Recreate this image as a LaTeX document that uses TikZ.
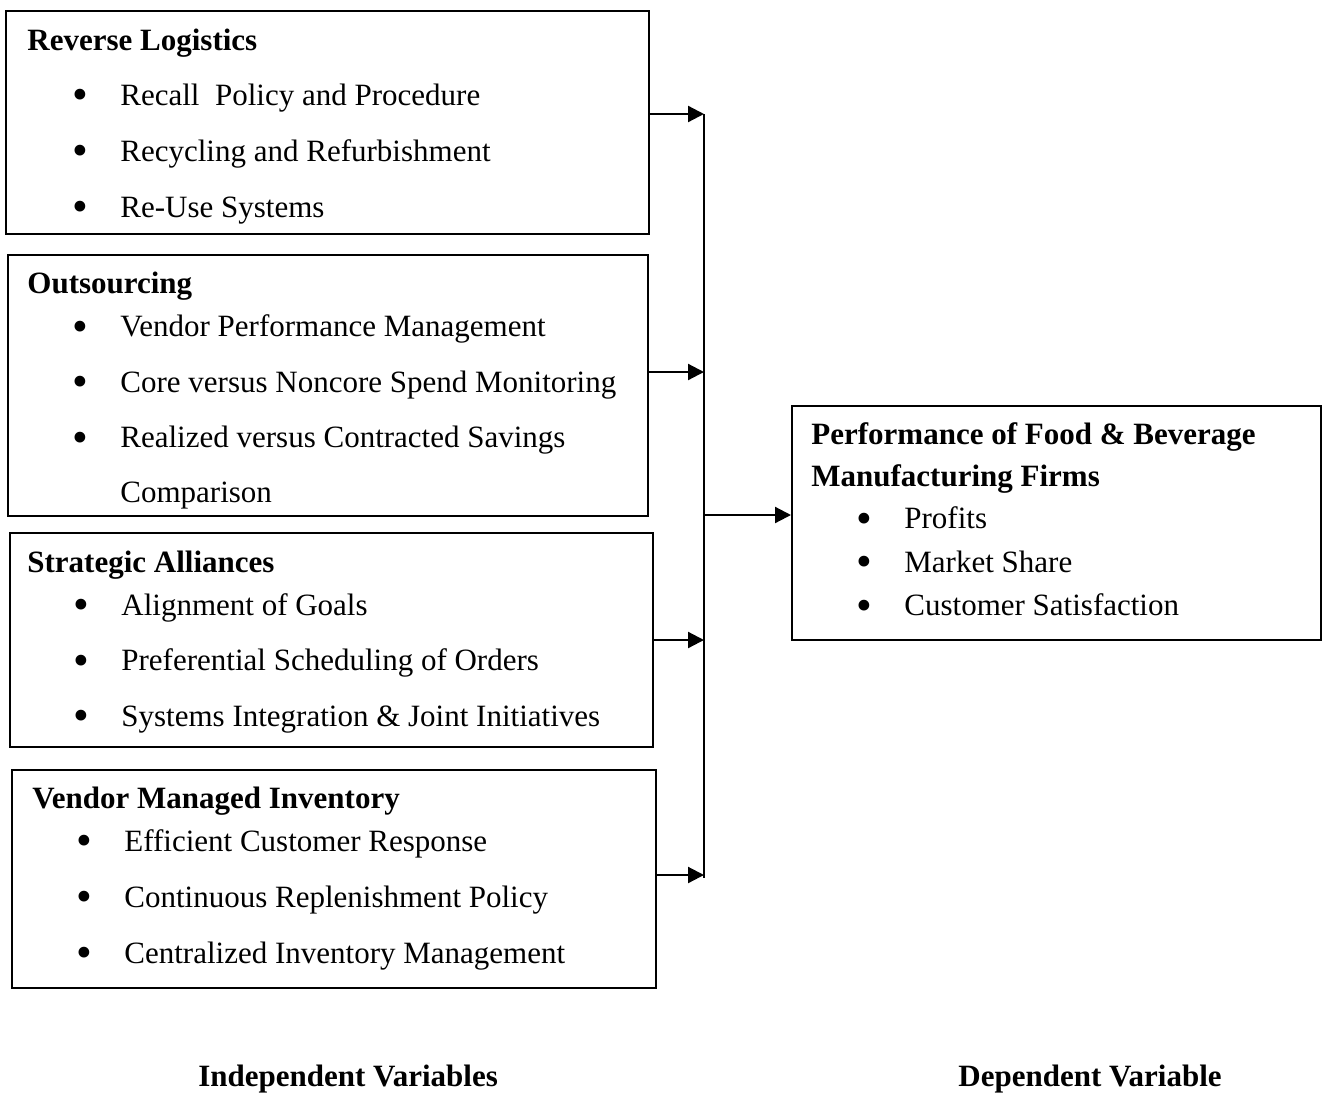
\documentclass[tikz,border=0pt]{standalone}
\usepackage{fontspec}
\setmainfont{Liberation Serif}
\usetikzlibrary{arrows.meta}
\newcommand\figfont{\fontsize{15.5}{18}\selectfont}
\newcommand\figbullet{\raisebox{-0.15em}{\scalebox{1.45}{\textbullet}}}
\tikzset{
    varbox/.style={draw, line width=1pt, rectangle, anchor=north west, inner sep=0pt},
    head/.style={anchor=base west, inner sep=0pt, font=\figfont\bfseries},
    plain/.style={anchor=base west, inner sep=0pt, font=\figfont},
    entry/.style={plain, execute at begin node={\llap{\figbullet\hspace{16pt}}}},
    link/.style={line width=1.1pt, -{Triangle[length=8pt, width=8pt]}}
}
\begin{document}
\begin{tikzpicture}[x=0.5pt, y=-0.5pt]
        \useasboundingbox (0,0) rectangle (1327,1092);
        % Draw boxes of independent variables
        \node[varbox, minimum width=321.5pt, minimum height=111.5pt] (revlog) at (5,10) {};
        \node[varbox, minimum width=320pt, minimum height=130.5pt] (outsrc) at (7,254) {};
        \node[varbox, minimum width=321.5pt, minimum height=107pt] (allian) at (9,532) {};
        \node[varbox, minimum width=322pt, minimum height=109pt] (vmi) at (11,769) {};
        % Draw box of dependent variable
        \node[varbox, minimum width=264.5pt, minimum height=117pt] (perf) at (791,405) {};
        % Reverse logistics
        \node[head] (revlog-title) at (27,50) {Reverse Logistics};
        \foreach \txt [count=\i] in {Recall\ \ Policy and Procedure, Recycling and Refurbishment, Re-Use Systems}
            \node[entry] (revlog-\i) at (120,49+56*\i) {\txt};
        % Outsourcing
        \node[head] (outsrc-title) at (27,293) {Outsourcing};
        \foreach \txt [count=\i] in {Vendor Performance Management, Core versus Noncore Spend Monitoring, Realized versus Contracted Savings}
            \node[entry] (outsrc-\i) at (120,281+55.5*\i) {\txt};
        \node[plain] (outsrc-4) at (120,502) {Comparison};
        % Strategic alliances
        \node[head] (allian-title) at (27,572) {Strategic Alliances};
        \foreach \txt [count=\i] in {Alignment of Goals, Preferential Scheduling of Orders, Systems Integration \& Joint Initiatives}
            \node[entry] (allian-\i) at (121,559.5+55.5*\i) {\txt};
        % Vendor managed inventory
        \node[head] (vmi-title) at (32,808) {Vendor Managed Inventory};
        \foreach \txt [count=\i] in {Efficient Customer Response, Continuous Replenishment Policy, Centralized Inventory Management}
            \node[entry] (vmi-\i) at (124,795+56*\i) {\txt};
        % Performance
        \node[head] (perf-title) at (811,444) {Performance of Food \& Beverage};
        \node[head] (perf-title2) at (811,486) {Manufacturing Firms};
        \foreach \txt [count=\i] in {Profits, Market Share, Customer Satisfaction}
            \node[entry] (perf-\i) at (904,485+43.5*\i) {\txt};
        % Draw arrows to the joining line
        \coordinate (j1) at (704,114);
        \coordinate (j2) at (704,372);
        \coordinate (j3) at (704,640);
        \coordinate (j4) at (704,875);
        \coordinate (jend) at (704,878);
        \coordinate (j0) at (704,515);
        \draw[link] (revlog.east |- j1) -- (j1);
        \draw[link] (outsrc.east |- j2) -- (j2);
        \draw[link] (allian.east |- j3) -- (j3);
        \draw[link] (vmi.east |- j4) -- (j4);
        \draw[line width=1.1pt] (j1) -- (jend);
        \draw[link] (j0) -- (j0 -| perf.west);
        % Bottom captions
        \node[head] (indep) at (198,1086) {Independent Variables};
        \node[head] (dep) at (958,1086) {Dependent Variable};
\end{tikzpicture}
\end{document}
